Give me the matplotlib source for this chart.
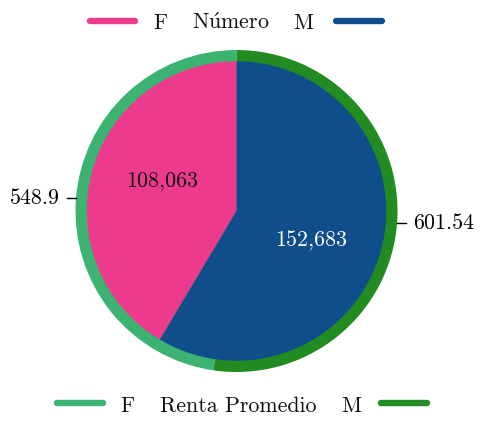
import matplotlib
matplotlib.use("Agg")
import matplotlib.pyplot as plt
from matplotlib.lines import Line2D
import numpy as np

plt.rcParams['font.family'] = ['cmr10', 'DejaVu Serif']
plt.rcParams['mathtext.fontset'] = 'cm'
plt.rcParams['axes.formatter.use_mathtext'] = True

categories = ["F", "M"]
numero = [108063, 152683]
renta = [548.9, 601.54]
numero_labels = ["108,063", "152,683"]
renta_labels = ["548.9", "601.54"]
legend_top_title = r"$\mathrm{N\acute{u}mero}$"
legend_bottom_title = "Renta Promedio"

col_num = ["#EE3A8C", "#104E8B"]
col_renta = ["#3CB371", "#228B22"]
num_text_col = ["#111111", "white"]

W, H = 483, 422
DPI = 100
FS = 15.8
fig = plt.figure(figsize=(W / DPI, H / DPI), dpi=DPI)

cx, cy, R = 236.5, 211.0, 161.0
ax = fig.add_axes([(cx - R) / W, (H - cy - R) / H, 2 * R / W, 2 * R / H])

ax.pie(renta, radius=1.0, colors=col_renta, startangle=90, counterclock=True,
       wedgeprops=dict(linewidth=0))
wedges, _ = ax.pie(numero, radius=0.93, colors=col_num, startangle=90, counterclock=True,
                   wedgeprops=dict(linewidth=0))
ax.set_xlim(-1, 1)
ax.set_ylim(-1, 1)
ax.set_aspect('auto')
ax.axis('off')

# inner value labels
for w, lab, tc in zip(wedges, numero_labels, num_text_col):
    mid = np.deg2rad((w.theta1 + w.theta2) / 2 - 6.5)
    ax.text(0.497 * np.cos(mid), 0.497 * np.sin(mid), lab, ha='center', va='center',
            fontsize=FS, color=tc)

# outer labels with short ticks
label_y = [0.081, -0.075]
for i, (lab, yv) in enumerate(zip(renta_labels, label_y)):
    sgn = -1 if i == 0 else 1
    xe = sgn * np.sqrt(1 - yv ** 2)
    ax.add_line(Line2D([xe, xe + sgn * 0.055], [yv, yv], color='black', lw=1.0, clip_on=False))
    ax.text(xe + sgn * 0.1, yv, lab, ha='right' if sgn < 0 else 'left', va='center',
            fontsize=FS, color='black')

# custom legends
def px(x, y):
    return x / W, 1 - y / H

def legend_row(y_line, y_base, cols, line_x, texts):
    for (x0, x1), c in zip(line_x, cols):
        (a, b), (a2, b2) = px(x0, y_line), px(x1, y_line)
        fig.add_artist(Line2D([a, a2], [b, b2], transform=fig.transFigure, color=c,
                              lw=4.6, solid_capstyle='round'))
    for xc, t in texts:
        xx, yy = px(xc, y_base)
        fig.text(xx, yy, t, ha='center', va='baseline', fontsize=FS, color='#111111')

legend_row(20.7, 29.3, col_num, [(90, 135), (336, 382)],
           [(160.5, categories[0]), (230.5, legend_top_title), (303, categories[1])])
legend_row(402.7, 411.7, col_renta, [(57, 103), (381, 427)],
           [(128, categories[0]), (238, legend_bottom_title), (351, categories[1])])

fig.savefig("out.png", dpi=DPI)
